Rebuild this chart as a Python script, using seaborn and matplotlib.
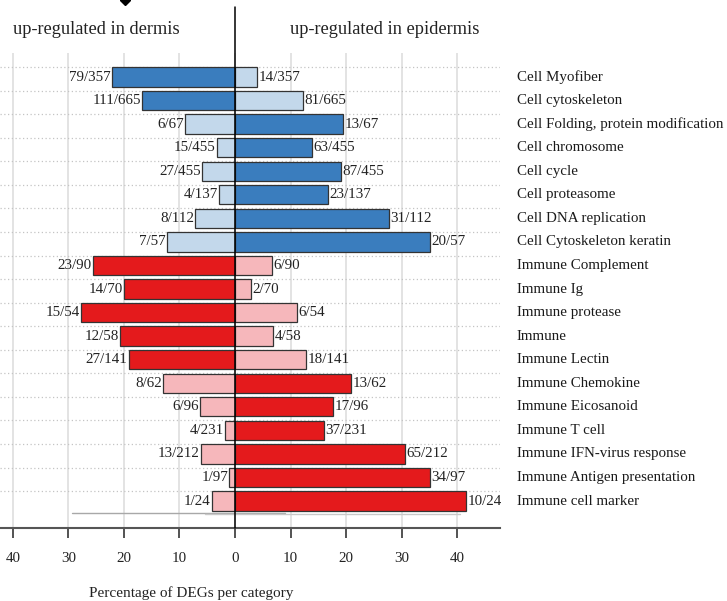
import matplotlib
matplotlib.use("Agg")
import matplotlib.pyplot as plt
import matplotlib.transforms as mtrans
from matplotlib.lines import Line2D
import seaborn as sns
import pandas as pd

categories = ["Cell Myofiber", "Cell cytoskeleton", "Cell Folding, protein modification",
              "Cell chromosome", "Cell cycle", "Cell proteasome", "Cell DNA replication",
              "Cell Cytoskeleton keratin", "Immune Complement", "Immune Ig", "Immune protease",
              "Immune", "Immune Lectin", "Immune Chemokine", "Immune Eicosanoid", "Immune T cell",
              "Immune IFN-virus response", "Immune Antigen presentation", "Immune cell marker"]
dermis_n = [79, 111, 6, 15, 27, 4, 8, 7, 23, 14, 15, 12, 27, 8, 6, 4, 13, 1, 1]
epidermis_n = [14, 81, 13, 63, 87, 23, 31, 20, 6, 2, 6, 4, 18, 13, 17, 37, 65, 34, 10]
totals = [357, 665, 67, 455, 455, 137, 112, 57, 90, 70, 54, 58, 141, 62, 96, 231, 212, 97, 24]
groups = ["Cell"] * 8 + ["Immune"] * 11
tick_values = [-40, -30, -20, -10, 0, 10, 20, 30, 40]

sns.set_theme(style="white")
plt.rcParams["font.family"] = ["Liberation Serif", "DejaVu Serif"]

dark = {"Cell": "#3A7DBE", "Immune": "#E41A1C"}
light = {"Cell": "#C3D8EB", "Immune": "#F6B7BB"}

df = pd.DataFrame({"category": categories, "group": groups,
                   "dermis": [-100 * n / t for n, t in zip(dermis_n, totals)],
                   "epidermis": [100 * n / t for n, t in zip(epidermis_n, totals)]})
der_colors = {c: (dark[g] if abs(d) > e else light[g])
              for c, g, d, e in zip(df.category, df.group, df.dermis, df.epidermis)}
epi_colors = {c: (dark[g] if e > abs(d) else light[g])
              for c, g, d, e in zip(df.category, df.group, df.dermis, df.epidermis)}

W, H = 727, 601
fig = plt.figure(figsize=(W / 100, H / 100), dpi=100)
ax = fig.add_axes([0 / W, 1 - 528 / H, 500 / W, 475 / H])

bar_h = 0.82
sns.barplot(data=df, x="dermis", y="category", hue="category", palette=der_colors,
            orient="h", width=bar_h, edgecolor="#333333", linewidth=0.9, saturation=1,
            legend=False, ax=ax, zorder=3)
sns.barplot(data=df, x="epidermis", y="category", hue="category", palette=epi_colors,
            orient="h", width=bar_h, edgecolor="#333333", linewidth=0.9, saturation=1,
            legend=False, ax=ax, zorder=3)

n = len(categories)
ax.set_xlim(-42.3, 47.7)
ax.set_ylim(n - 1 + 1.146, -1.02)

# grid
for v in tick_values:
    ax.axvline(v, color="#e3e3e3", lw=1.4, zorder=0)
for i in range(n):
    ax.axhline(i - 0.42, color="#c4c4c4", lw=0.9, ls=(0, (1, 2)), zorder=1)
ax.plot([-29.4, 9.0], [n - 1 + 0.5, n - 1 + 0.5], color="#a8a8a8", lw=1.0, zorder=1)
ax.plot([-5.4, 40.5], [n - 1 + 0.56, n - 1 + 0.56], color="#c8c8c8", lw=1.0, zorder=1)

# centre line
ax.axvline(0, ymin=0, ymax=(528 - 7) / 475, color="black", lw=1.1, zorder=5, clip_on=False)

# bar labels
for i, (dn, en, t, dv, ev) in enumerate(zip(dermis_n, epidermis_n, totals, df.dermis, df.epidermis)):
    ax.text(dv - 0.2, i, f"{dn}/{t}", ha="right", va="center", fontsize=10.8, color="#222222")
    ax.text(ev + 0.25, i, f"{en}/{t}", ha="left", va="center", fontsize=10.8, color="#222222")

# axes styling
for s in ["top", "right", "left"]:
    ax.spines[s].set_visible(False)
ax.spines["bottom"].set_color("#555555")
ax.spines["bottom"].set_linewidth(1.5)
ax.set_xticks(tick_values)
ax.set_xticklabels([str(abs(v)) for v in tick_values], fontsize=10.8, color="#222222")
ax.tick_params(axis="x", direction="out", length=7, width=1.3, color="#444444", pad=10, bottom=True)
ax.set_yticks(range(n))
ax.set_yticklabels([])
ax.tick_params(axis="y", length=0)
ax.set_xlabel("")
ax.set_ylabel("")

# category labels
blend = mtrans.blended_transform_factory(fig.transFigure, ax.transData)
for i, c in enumerate(categories):
    ax.text(517 / W, i, c, transform=blend, fontsize=10.8, color="#1a1a1a",
            ha="left", va="center", clip_on=False)

fig.text(96 / W, 1 - 30 / H, "up-regulated in dermis", ha="center", va="center",
         fontsize=13.2, color="#222222")
fig.text(385 / W, 1 - 30 / H, "up-regulated in epidermis", ha="center", va="center",
         fontsize=13.2, color="#222222")
fig.text(191 / W, 1 - 593 / H, "Percentage of DEGs per category", ha="center", va="center",
         fontsize=11, color="#222222")

fig.add_artist(Line2D([125 / W], [1.0], marker="D", markersize=5.5, color="black",
                      transform=fig.transFigure))

fig.savefig("out.png", dpi=100)
